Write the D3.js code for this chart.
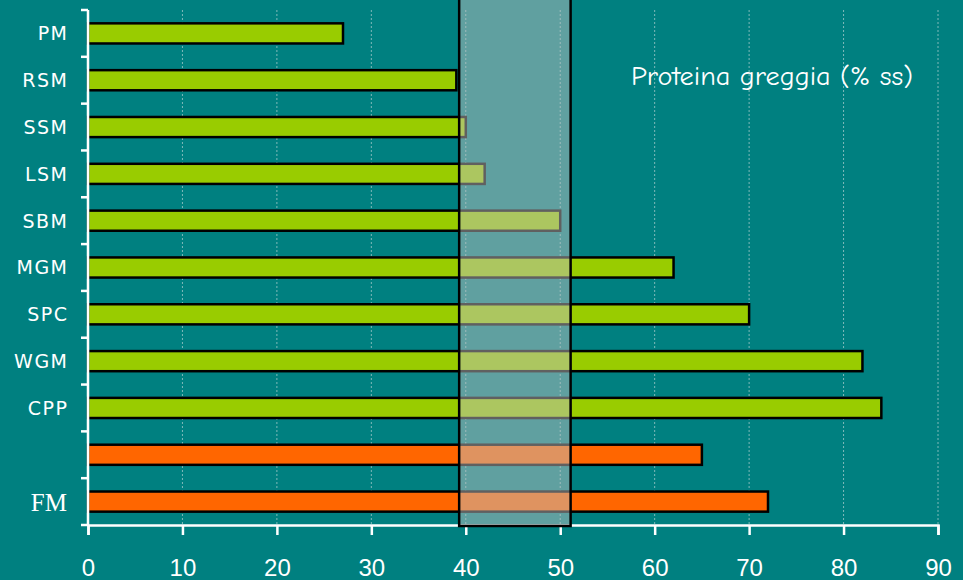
<!DOCTYPE html>
<html>
<head>
<meta charset="utf-8">
<script src="https://cdn.jsdelivr.net/npm/d3@7"></script>
<style>
  html, body { margin: 0; padding: 0; background: #008080; }
  svg { display: block; }
</style>
</head>
<body>
<svg id="chart" width="963" height="580"></svg>
<script>
// Crude protein content (% dry matter) of protein sources
const categories = ["PM", "RSM", "SSM", "LSM", "SBM", "MGM", "SPC", "WGM", "CPP", "", "FM"];
const values     = [27, 39, 40, 42, 50, 62, 70, 82, 84, 65, 72];
const groups     = ["veg", "veg", "veg", "veg", "veg", "veg", "veg", "veg", "veg", "fish", "fish"];
const xTicks     = [0, 10, 20, 30, 40, 50, 60, 70, 80, 90];
const rangeBand  = [39.3, 51.1];
const title      = "Proteina greggia (% ss)";

const colors = { veg: "#99CC00", fish: "#FF6600" };

const svg = d3.select("#chart");
const W = 963, H = 580;
const margin = { left: 88, right: 25, top: 10, bottom: 55 };

svg.append("rect").attr("width", W).attr("height", H).attr("fill", "#008080");

const x = d3.scaleLinear().domain([0, 90]).range([margin.left, W - margin.right]);
const y = d3.scaleBand()
  .domain(d3.range(categories.length))
  .range([margin.top, H - margin.bottom])
  .paddingInner(0.57).paddingOuter(0.285);

const yTop = margin.top, yBot = H - margin.bottom;

// dotted vertical gridlines
svg.append("g").selectAll("line")
  .data(xTicks.filter(t => t > 0))
  .join("line")
  .attr("x1", d => x(d)).attr("x2", d => x(d))
  .attr("y1", yTop).attr("y2", yBot)
  .attr("stroke", "#7fb9b9").attr("stroke-width", 1)
  .attr("stroke-dasharray", "2,2");

// bars
svg.append("g").selectAll("rect")
  .data(values)
  .join("rect")
  .attr("x", x(0))
  .attr("y", (d, i) => y(i))
  .attr("width", d => x(d) - x(0))
  .attr("height", y.bandwidth())
  .attr("fill", (d, i) => colors[groups[i]])
  .attr("stroke", "#000").attr("stroke-width", 2.5);

// x axis
const xAxis = svg.append("g")
  .attr("transform", `translate(0,${yBot})`)
  .call(d3.axisBottom(x).tickValues(xTicks).tickSize(10).tickPadding(24));
xAxis.select(".domain").attr("stroke", "#fff").attr("stroke-width", 2.5);
xAxis.selectAll(".tick line").attr("stroke", "#fff").attr("stroke-width", 2.5);
xAxis.selectAll(".tick text")
  .attr("fill", "#fff")
  .style("font-family", "Liberation Sans, Arial, sans-serif")
  .style("font-size", "24px");

// y axis: ticks between categories
const yAxis = svg.append("g");
yAxis.append("line")
  .attr("x1", x(0)).attr("x2", x(0))
  .attr("y1", yTop).attr("y2", yBot)
  .attr("stroke", "#fff").attr("stroke-width", 2.5);
const boundaries = d3.range(categories.length + 1).map(i => yTop + i * (yBot - yTop) / categories.length);
yAxis.selectAll(".yt")
  .data(boundaries)
  .join("line")
  .attr("class", "yt")
  .attr("x1", x(0) - 7).attr("x2", x(0))
  .attr("y1", d => d).attr("y2", d => d)
  .attr("stroke", "#fff").attr("stroke-width", 2.5);

yAxis.selectAll(".yl")
  .data(categories)
  .join("text")
  .attr("class", "yl")
  .attr("x", d => d === "FM" ? 67 : 68.5)
  .attr("y", (d, i) => y(i) + y.bandwidth() / 2)
  .attr("dy", "0.36em")
  .attr("text-anchor", "end")
  .attr("fill", "#fff")
  .style("font-family", d => d === "FM" ? "Liberation Serif, Times New Roman, serif" : "DejaVu Sans, sans-serif")
  .style("font-size", d => d === "FM" ? "25px" : "19px")
  .style("letter-spacing", d => d === "FM" ? "0px" : "1.5px")
  .text(d => d);

// highlighted range of protein content
svg.append("rect")
  .attr("x", x(rangeBand[0]))
  .attr("y", -5)
  .attr("width", x(rangeBand[1]) - x(rangeBand[0]))
  .attr("height", yBot + 1 + 5)
  .attr("fill", "#c0c0c0").attr("fill-opacity", 0.5)
  .attr("stroke", "#000").attr("stroke-width", 2.5);

// title
svg.append("text")
  .attr("x", 631).attr("y", 85)
  .attr("fill", "#fff")
  .attr("textLength", 282)
  .attr("lengthAdjust", "spacingAndGlyphs")
  .style("font-family", "Comic Sans MS, Comic Neue, Lato, sans-serif")
  .style("font-size", "27px")
  .text(title);
</script>
</body>
</html>
